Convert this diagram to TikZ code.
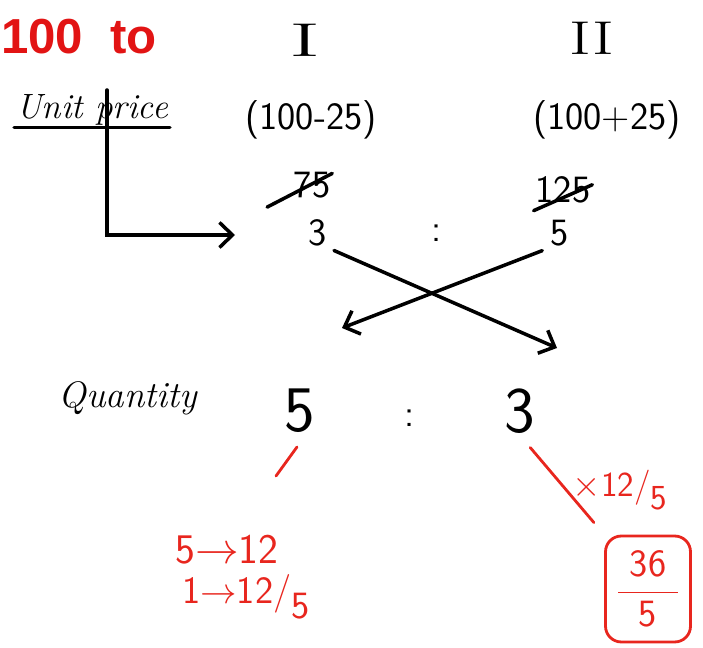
\documentclass[tikz,border=0pt]{standalone}
\usepackage{fontspec}
\usepackage{amsmath}
\usepackage{graphicx}
\usepackage{tikz}
\usetikzlibrary{arrows.meta,positioning,calc}
\newfontfamily\headfont{Liberation Sans}
\definecolor{inkred}{RGB}{232,38,30}
\definecolor{headred}{RGB}{226,20,20}

\begin{document}
\begin{tikzpicture}[x=0.02cm,y=-0.02cm,
  hand/.style={inner sep=1pt,font=\fontsize{22}{26}\selectfont\sffamily},
  big/.style={inner sep=1pt,font=\fontsize{37}{42}\selectfont\sffamily},
  word/.style={inner sep=1pt,font=\fontsize{20}{24}\selectfont\itshape},
  roman/.style={inner sep=1pt,font=\fontsize{27}{30}\selectfont\rmfamily},
  rednote/.style={inner sep=1pt,text=inkred,font=\fontsize{24}{28}\selectfont\sffamily},
  pen/.style={line width=2pt,line cap=round},
  redpen/.style={line width=1.6pt,line cap=round,draw=inkred},
  arr/.style={pen,-{Straight Barb[length=2.6mm,width=5mm]}}]
\useasboundingbox (0,0) rectangle (703,648);

% ------------- heading -------------
\node[anchor=east,inner sep=0pt,text=headred,
      font=\fontsize{28}{32}\selectfont\headfont\bfseries] (hundred) at (157,37)
  {100\hspace{0.55em}to};
\node[roman] (partI) at (305,40) {\scalebox{2}[1]{I}};
\node[roman] (partII) at (592,38) {\scalebox{1.4}[1]{II}};

% ------------- unit price -------------
\node[word] (unitprice) at (92,110) {Unit price};
\draw[pen] (unitprice.south west) -- (unitprice.south east);
\node[hand] (costI) at (311,120) {(100-25)};
\node[hand] (costII) at (607,120) {(100+25)};

\node[hand] (old75) at (312,185) {75};
\draw[pen] ([xshift=-14pt,yshift=-4pt]old75.south west) -- ([yshift=-2pt]old75.north east);
\node[hand] (three) at (318,233) {3};
\node[hand] (colA) at (437,233) {:};
\node[hand] (old125) at (563,190) {125};
\draw[pen] ([yshift=-3pt]old125.south west) -- ([yshift=3pt]old125.east);
\node[hand] (five) at (560,233) {5};

\coordinate (stem) at (107,90);
\coordinate (stemend) at (235,235);
\draw[arr] (stem) |- (stemend);

% cross over
\coordinate (tipA) at (557,348);
\coordinate (tipB) at (342,328);
\draw[arr,shorten <=3pt] (three.south east) -- (tipA);
\draw[arr,shorten <=4pt] (five.south west) -- (tipB);

% ------------- quantity -------------
\node[word,font=\fontsize{21}{25}\selectfont\itshape] (qlabel) at (128,398) {Quantity};
\node[big] (qfive) at (300,411) {5};
\node[hand] (qcolon) at (410,418) {:};
\node[big] (qthree) at (520,411) {3};

% ------------- red working -------------
\coordinate (markA) at (297,447);
\coordinate (markB) at (276,476);
\draw[redpen] (markA) -- (markB);
\node[rednote] (ratio1) at (227,550) {5$\rightarrow$12};
\node[rednote,font=\fontsize{22}{26}\selectfont\sffamily] (ratio2) at (246,597)
  {1$\rightarrow$12/\raisebox{-0.4em}{5}};

\node[draw=inkred,line width=1.6pt,rounded corners=9pt,minimum width=1.7cm,
      minimum height=2.12cm,text=inkred,font=\fontsize{22}{26}\selectfont\sffamily]
  (ans) at (648,589) {$\dfrac{\hspace{0.3em}\mathsf{36}\hspace{0.3em}}{\mathsf{5}}$};
\draw[redpen,shorten <=9pt,shorten >=9pt] (qthree.south) -- (ans.north west);
\node[rednote,font=\fontsize{20}{24}\selectfont\sffamily] (mult) at (620,490)
  {$\times$12/\raisebox{-0.35em}{5}};

\end{tikzpicture}
\end{document}
